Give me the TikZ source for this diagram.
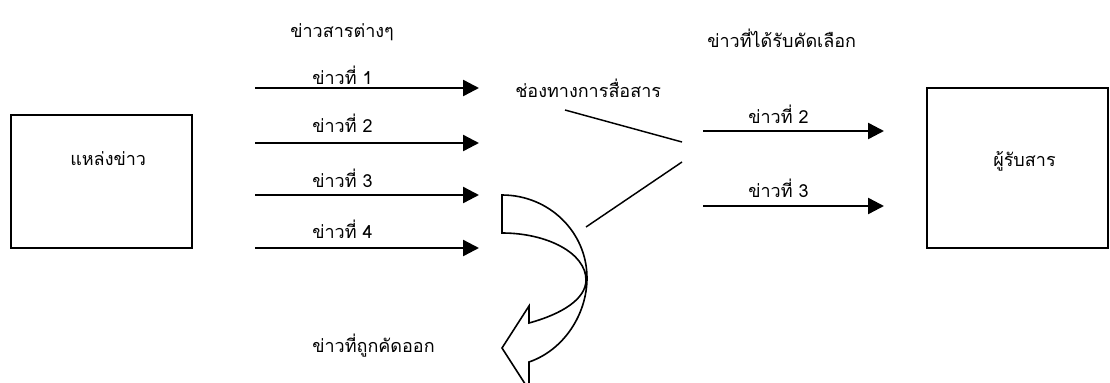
\documentclass[tikz,border=0pt]{standalone}
\usepackage{fontspec}
\setmainfont[Script=Thai]{Loma}
\usetikzlibrary{arrows.meta}

\tikzset{
  box/.style={draw,line width=1.3pt,inner sep=0pt},
  txt/.style={anchor=base west,inner sep=0pt,font=\fontsize{13.5}{16}\selectfont},
  msg/.style={line width=1.8pt,-{Triangle[length=12pt,width=12pt]}},
  thin/.style={line width=1.1pt}
}

\begin{document}
\begin{tikzpicture}[x=0.75pt,y=-0.75pt]
  \useasboundingbox (0,0) rectangle (1110,382);
  \clip (0,0) rectangle (1110,382);
  \node[box,minimum width=135.75pt,minimum height=99.75pt] (source) at (101.5,181.5) {};
  \node[box,minimum width=135.75pt,minimum height=120pt] (receiver) at (1017.5,168) {};
  \node[txt] (sourcetext) at (70,165) {แหล่งข่าว};
  \node[txt] (receivertext) at (993,166) {ผู้รับสาร};
  \node[txt] (alltext) at (290,37) {ข่าวสารต่างๆ};
  \node[txt] (chantext) at (515,97) {ช่องทางการสื่อสาร};
  \node[txt] (keeptext) at (707,47) {ข่าวที่ได้รับคัดเลือก};
  \node[txt] (droptext) at (312,352) {ข่าวที่ถูกคัดออก};

  \coordinate (in1) at (255,88);  \coordinate (out1) at (479,88);
  \coordinate (in2) at (255,143); \coordinate (out2) at (479,143);
  \coordinate (in3) at (255,195); \coordinate (out3) at (479,195);
  \coordinate (in4) at (255,248); \coordinate (out4) at (479,248);
  \draw[msg] (in1)--(out1);
  \draw[msg] (in2)--(out2);
  \draw[msg] (in3)--(out3);
  \draw[msg] (in4)--(out4);
  \node[txt] (news1) at (312,84) {ข่าวที่ 1};
  \node[txt] (news2) at (312,132) {ข่าวที่ 2};
  \node[txt] (news3) at (312,187) {ข่าวที่ 3};
  \node[txt] (news4) at (312,238) {ข่าวที่ 4};

  \coordinate (funtop) at (565,110);
  \coordinate (funlow) at (586,227);
  \coordinate (neckA) at (682,142);
  \coordinate (neckB) at (682,162);
  \draw[thin] (funtop)--(neckA);
  \draw[thin] (funlow)--(neckB);

  \coordinate (pin2) at (703,131); \coordinate (pout2) at (884,131);
  \coordinate (pin3) at (703,206); \coordinate (pout3) at (884,206);
  \draw[msg] (pin2)--(pout2);
  \draw[msg] (pin3)--(pout3);
  \node[txt] (pick2) at (748,123) {ข่าวที่ 2};
  \node[txt] (pick3) at (748,197) {ข่าวที่ 3};

  \draw[line width=1.2pt,line join=miter] (502,233)--(502,195)
    .. controls (549,195) and (587,232) .. (587,278)
    .. controls (587,314) and (564,350) .. (529,362)
    --(529,390)--(502,348)--(529,306)--(529,323)
    .. controls (562,314) and (586,299) .. (586,280)
    .. controls (586,253) and (547,233) .. (502,233)--cycle;
\end{tikzpicture}
\end{document}
